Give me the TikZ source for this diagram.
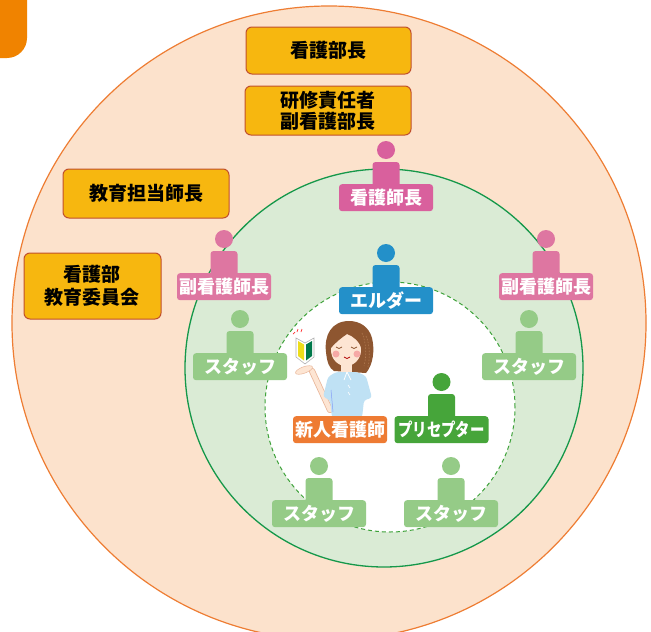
\documentclass[tikz,border=0pt]{standalone}
\usepackage{fontspec}
\usepackage{graphicx}
\newfontfamily\jp{Noto Sans CJK JP}
\definecolor{peach}{HTML}{FCE2CC}
\definecolor{peachline}{HTML}{EE7D33}
\definecolor{ringfill}{HTML}{DAEBD5}
\definecolor{ringline}{HTML}{15984A}
\definecolor{dashline}{HTML}{3EA23A}
\definecolor{amber}{HTML}{F7B70F}
\definecolor{amberline}{HTML}{C1502C}
\definecolor{tabor}{HTML}{F08300}
\definecolor{headpink}{HTML}{D9609D}
\definecolor{subpink}{HTML}{DE76A1}
\definecolor{elderblue}{HTML}{2390C9}
\definecolor{staffgreen}{HTML}{95CB87}
\definecolor{precgreen}{HTML}{46A53A}
\definecolor{newor}{HTML}{EE7B33}
\definecolor{hair}{HTML}{8E5630}
\definecolor{hairlight}{HTML}{B07A50}
\definecolor{skin}{HTML}{FDE5D3}
\definecolor{skinline}{HTML}{E9B79A}
\definecolor{uniform}{HTML}{BFE1F4}
\definecolor{blush}{HTML}{F6A9A6}
\definecolor{markyel}{HTML}{EDDD1A}
\definecolor{markgrn}{HTML}{00784A}
\tikzset{
  rolebox/.style={draw=amberline, fill=amber, line width=1pt, rounded corners=6pt,
    inner sep=0pt, align=center, text=black,
    font=\jp\bfseries\fontsize{19pt}{21pt}\selectfont},
  tag/.style={rounded corners=3pt, minimum width=94pt, minimum height=27pt,
    inner sep=0pt, text=white, font=\jp\bfseries\fontsize{18pt}{20pt}\selectfont}
}
% person: name, x, top of label, colour, text
\newcommand\figperson[5]{%
  \fill[#4, rounded corners=3pt] (#2-13.5,#3-22) rectangle (#2+13.5,#3+5);
  \fill[#4] (#2,#3-34) circle[radius=9pt];
  \node[tag, fill=#4, anchor=north] (#1) at (#2,#3) {#5};
}
\begin{document}
\begin{tikzpicture}[x=1pt,y=-1pt]
\useasboundingbox (0,0) rectangle (651,632);
\clip (0,0) rectangle (651,632);
\fill[white] (0,0) rectangle (651,632);

% corner tab
\fill[tabor, rounded corners=20pt] (-30,-30) rectangle (27,58);

% rings
\draw[peachline, fill=peach, line width=1.2pt] (329,323) circle[radius=317pt];
\draw[ringline, fill=ringfill, line width=1.3pt] (384,368) circle[radius=199pt];
\draw[dashline, fill=white, line width=1pt, dash pattern=on 4pt off 3pt] (390,407) circle[radius=125pt];

% management boxes
\node[rolebox, minimum width=165pt, minimum height=47pt] (bucho) at (328.5,50.5) {看護部長};
\node[rolebox, minimum width=166pt, minimum height=49pt] (fukubucho) at (328,110.5) {研修責任者\\副看護部長};
\node[rolebox, minimum width=166pt, minimum height=49pt] (kyoikushicho) at (146,193.5) {教育担当師長};
\node[rolebox, minimum width=137pt, minimum height=66pt,
  font=\jp\bfseries\fontsize{19pt}{23pt}\selectfont] (iinkai) at (92.5,286) {看護部\\教育委員会};

% people
\figperson{shicho}{386}{184}{headpink}{看護師長}
\figperson{fukuL}{224}{273}{subpink}{副看護師長}
\figperson{fukuR}{546}{273}{subpink}{副看護師長}
\figperson{elder}{386}{287}{elderblue}{エルダー}
\figperson{staffUL}{240}{353}{staffgreen}{スタッフ}
\figperson{staffUR}{529}{353}{staffgreen}{スタッフ}
\figperson{staffBL}{319}{500}{staffgreen}{スタッフ}
\figperson{staffBR}{451}{500}{staffgreen}{スタッフ}
\figperson{preceptor}{441.5}{416}{precgreen}{\scalebox{0.8}[1]{プリセプター}}

% new nurse illustration
\fill[hair] (349,321) .. controls (331,321) and (324,336) .. (326,352)
  .. controls (327,362) and (329,368) .. (334,371) -- (366,373)
  .. controls (373,365) and (375,350) .. (372,338)
  .. controls (369,327) and (360,321) .. (349,321) -- cycle;
\draw[hairlight, line width=0.6pt, dash pattern=on 1.5pt off 1.5pt] (362,333) .. controls (366,342) and (367,355) .. (364,366);
\draw[hairlight, line width=0.6pt, dash pattern=on 1.5pt off 1.5pt] (366,336) .. controls (370,345) and (370,357) .. (368,367);
\fill[skin] (341,362) rectangle (352,374);
\fill[skin] (346,350) ellipse[x radius=15pt, y radius=16pt];
\fill[hair] (330,349) .. controls (330,334) and (339,327) .. (350,327)
  .. controls (359,328) and (363,338) .. (362,349)
  .. controls (359,341) and (353,336) .. (347,334)
  .. controls (341,338) and (335,343) .. (330,349) -- cycle;
\fill[blush] (336,354) circle[radius=3.5pt];
\fill[blush] (357,354) circle[radius=3.5pt];
\draw[hair, line width=0.8pt] (336,347) .. controls (338,349) and (340,349) .. (342,347);
\draw[hair, line width=0.8pt] (351,347) .. controls (353,349) and (355,349) .. (357,347);
\draw[red!70!black, line width=0.7pt] (344,357) .. controls (346,359) and (348,359) .. (350,357);
% arm raised to the hand
\draw[skinline, line width=6.2pt, line cap=round] (312,371) -- (330,410);
\draw[skin, line width=4.6pt, line cap=round] (312,371) -- (330,410);
\fill[skin, draw=skinline, line width=0.5pt, rotate around={20:(304,370)}] (304,370) ellipse[x radius=9pt, y radius=3.2pt];
% uniform
\fill[uniform, rounded corners=3pt] (336,372) -- (357,372) -- (366,376)
  -- (372,398) -- (364,400) -- (362,418) -- (332,418) -- (330,400)
  -- (323,397) -- (328,377) -- cycle;
\draw[white, line width=0.8pt] (347,372) -- (344,380);
\draw[white, line width=0.8pt] (347,372) -- (351,380);
\draw[white, line width=0.6pt] (348,385) -- (350,388) (348,392) -- (350,395);
\draw[uniform!70!blue, line width=0.5pt] (331,390) -- (333,412);
% beginner mark
\fill[white, draw=gray!60, line width=0.6pt] (296,338) -- (305,343) -- (314,338) -- (314,357) -- (305,364) -- (296,357) -- cycle;
\fill[markyel] (298,341) -- (304,344.5) -- (304,360.5) -- (298,356) -- cycle;
\fill[markgrn] (312,341) -- (306,344.5) -- (306,360.5) -- (312,356) -- cycle;
\draw[red!80, line width=0.7pt] (293,334) -- (295,332) (297,332) -- (298,329) (301,332) -- (302,329);

\node[tag, fill=newor, anchor=north] (shinjin) at (340,416) {新人看護師};
\end{tikzpicture}
\end{document}
